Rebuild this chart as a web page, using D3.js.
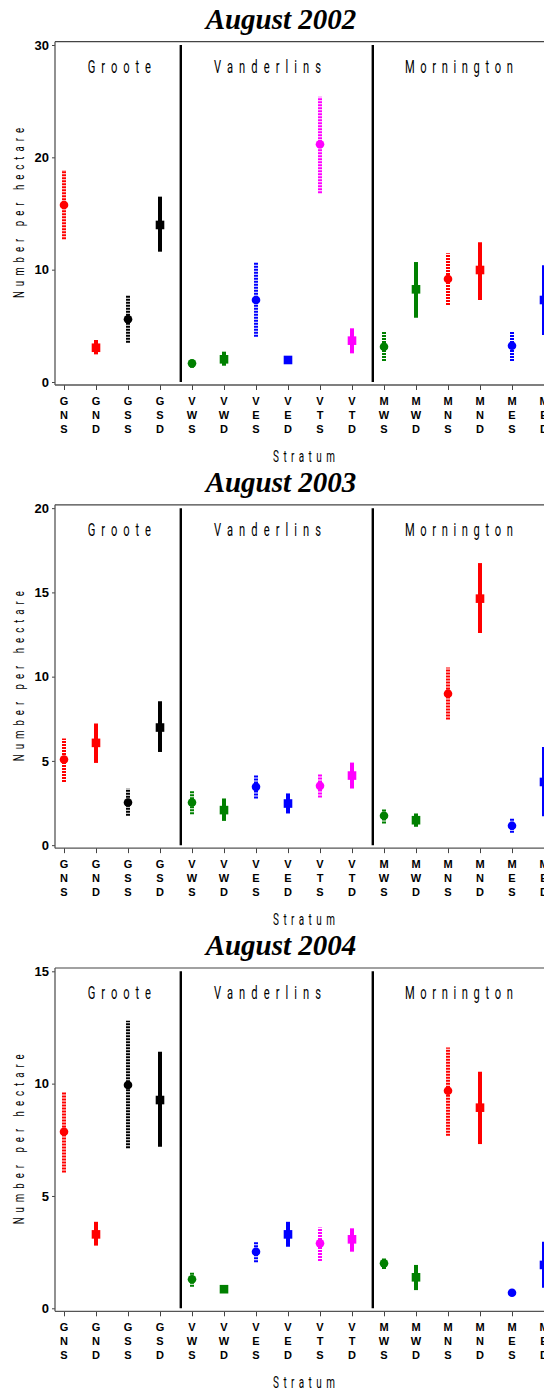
<!DOCTYPE html>
<html>
<head>
<meta charset="utf-8">
<script src="https://cdn.jsdelivr.net/npm/d3@7"></script>
<style>
  html, body { margin: 0; padding: 0; background: #fff; }
  svg { display: block; }
</style>
</head>
<body>
<svg id="chart" width="544" height="1392"></svg>
<script>
// ---------------- DATA ----------------
const categories = ["GNS","GND","GSS","GSD","VWS","VWD","VES","VED","VTS","VTD","MWS","MWD","MNS","MND","MES","MED"];
const panelTitles = ["August 2002","August 2003","August 2004"];
const regions = ["Groote","Vanderlins","Mornington"];
const yMaxes = [30, 20, 15];
const yTicks2002 = [0, 10, 20, 30];
const yTicks2003 = [0, 5, 10, 15, 20];
const yTicks2004 = [0, 5, 10, 15];

const mean2002  = [15.76, 3.05, 5.58, 13.98, 1.66, 2.02, 7.30, 1.96, 21.16, 3.68, 3.14, 8.25, 9.17, 9.97, 3.23, 7.30];
const lower2002 = [12.70, 2.46, 3.50, 11.60, 1.27, 1.45, 4.03, 1.75, 16.80, 2.55, 1.87, 5.72, 6.85, 7.30, 1.87, 4.18];
const upper2002 = [18.87, 3.74, 7.68, 16.50, 2.05, 2.70, 10.62, 2.20, 25.40, 4.78, 4.48, 10.68, 11.46, 12.44, 4.48, 10.40];

const mean2003  = [5.08, 6.07, 2.53, 6.98, 2.53, 2.08, 3.46, 2.47, 3.52, 4.13, 1.74, 1.48, 8.99, 14.63, 1.15, 3.75];
const lower2003 = [3.75, 4.88, 1.74, 5.53, 1.84, 1.44, 2.77, 1.88, 2.83, 3.36, 1.29, 1.09, 7.45, 12.59, 0.73, 1.72];
const upper2003 = [6.33, 7.22, 3.36, 8.54, 3.20, 2.77, 4.19, 3.07, 4.19, 4.90, 2.17, 1.88, 10.54, 16.74, 1.58, 5.83];

const mean2004  = [7.86, 3.29, 9.94, 9.27, 1.29, 0.85, 2.52, 3.29, 2.89, 3.07, 2.00, 1.38, 9.68, 8.93, 0.69, 1.93];
const lower2004 = [6.05, 2.79, 7.12, 7.19, 0.96, 0.75, 2.05, 2.74, 2.10, 2.52, 1.75, 0.81, 7.68, 7.31, 0.60, 0.92];
const upper2004 = [9.60, 3.85, 12.80, 11.42, 1.63, 0.95, 2.94, 3.85, 3.60, 3.56, 2.22, 1.93, 11.61, 10.53, 0.80, 2.96];

// ---------------- STYLE ----------------
const groupColor = { GN: "#ff0000", GS: "#000000", VW: "#008000", VE: "#0000ff", VT: "#ff00ff", MW: "#008000", MN: "#ff0000", ME: "#0000ff" };
const panels = [
  { title: panelTitles[0], yMax: yMaxes[0], ticks: yTicks2002, mean: mean2002, lo: lower2002, hi: upper2002 },
  { title: panelTitles[1], yMax: yMaxes[1], ticks: yTicks2003, mean: mean2003, lo: lower2003, hi: upper2003 },
  { title: panelTitles[2], yMax: yMaxes[2], ticks: yTicks2004, mean: mean2004, lo: lower2004, hi: upper2004 }
];
const regionCenters = [2.73, 7.36, 13.34];
const regionWidths = [63, 107, 108];
const separators = [4.65, 10.65];

const svg = d3.select("#chart");
const panelStep = 463.15;
const axisLeft = 55;
const x = d3.scaleLinear().domain([1, 16]).range([64, 544]);
const thin = "Roboto, 'Liberation Sans', sans-serif";
const squeeze = 0.62;

// condensed, letter-spaced text helper
function thinText(g, tx, ty, rot, width, size, str) {
  g.append("text")
    .attr("transform", `translate(${tx},${ty}) rotate(${rot}) scale(${squeeze},1)`)
    .attr("text-anchor", "middle")
    .attr("textLength", width / squeeze).attr("lengthAdjust", "spacing")
    .style("font-family", thin).style("font-weight", 400).style("font-size", size + "px")
    .attr("fill", "#000")
    .text(str);
}

panels.forEach((p, i) => {
  const off = i * panelStep;
  const g = svg.append("g").attr("transform", `translate(0,${off})`);
  const y = d3.scaleLinear().domain([0, p.yMax]).range([382, 45]);

  // title
  g.append("text")
    .attr("x", 281).attr("y", 29)
    .attr("text-anchor", "middle")
    .style("font-family", "'Liberation Serif', 'Times New Roman', serif")
    .style("font-weight", "bold").style("font-style", "italic")
    .style("font-size", "29px")
    .text(p.title);

  // frame top line
  g.append("line").attr("x1", axisLeft).attr("x2", 560)
    .attr("y1", 41.7).attr("y2", 41.7)
    .attr("stroke", "#444").attr("stroke-width", 1.2);

  // y axis
  const yAxis = d3.axisLeft(y).tickValues(p.ticks).tickSize(3).tickPadding(3).tickFormat(d3.format("d"));
  const ya = g.append("g").attr("transform", `translate(${axisLeft},0)`).call(yAxis);
  ya.select(".domain").remove();
  ya.selectAll(".tick line").attr("stroke", "#444");
  ya.selectAll(".tick text")
    .style("font-family", "'Liberation Sans', Arial, sans-serif")
    .style("font-weight", "bold").style("font-size", "13px").attr("fill", "#000");
  g.append("line").attr("x1", axisLeft).attr("x2", axisLeft)
    .attr("y1", 41.7).attr("y2", 385)
    .attr("stroke", "#555").attr("stroke-width", 1.3);

  // x axis
  const xAxis = d3.axisBottom(x).tickValues(d3.range(1, 17)).tickSize(5).tickFormat(() => "");
  const xa = g.append("g").attr("transform", "translate(0,385)").call(xAxis);
  xa.select(".domain").remove();
  xa.selectAll(".tick line").attr("stroke", "#444");
  g.append("line").attr("x1", axisLeft).attr("x2", 560)
    .attr("y1", 385).attr("y2", 385)
    .attr("stroke", "#555").attr("stroke-width", 1.3);

  // stacked tick labels
  const lineY = [405, 419, 432.5];
  categories.forEach((c, k) => {
    const t = g.append("text")
      .attr("text-anchor", "middle")
      .style("font-family", "'Liberation Sans', Arial, sans-serif")
      .style("font-weight", "bold").style("font-size", "11px");
    c.split("").forEach((ch, j) => {
      t.append("tspan").attr("x", x(k + 1)).attr("y", lineY[j]).text(ch);
    });
  });

  // axis labels
  thinText(g, 304, 461.5, 0, 62, 16, "Stratum");
  thinText(g, 24, 213, -90, 170, 15.5, "Number per hectare");

  // separators
  separators.forEach(s => {
    g.append("line").attr("x1", x(s)).attr("x2", x(s))
      .attr("y1", y(0)).attr("y2", y(p.yMax))
      .attr("stroke", "#000").attr("stroke-width", 2.4);
  });

  // region labels
  regions.forEach((r, k) => {
    thinText(g, x(regionCenters[k]), 73, 0, regionWidths[k], 18, r);
  });

  // error bars + markers
  categories.forEach((c, k) => {
    const col = groupColor[c.slice(0, 2)];
    const shallow = c[2] === "S";
    const cx = x(k + 1);
    g.append("line")
      .attr("x1", cx).attr("x2", cx)
      .attr("y1", y(p.lo[k])).attr("y2", y(p.hi[k]))
      .attr("stroke", col).attr("stroke-width", 4)
      .attr("stroke-dasharray", shallow ? "2,1" : null);
    if (shallow) {
      g.append("circle").attr("cx", cx).attr("cy", y(p.mean[k])).attr("r", 4.3).attr("fill", col);
    } else {
      g.append("rect").attr("x", cx - 4.3).attr("y", y(p.mean[k]) - 4.3)
        .attr("width", 8.6).attr("height", 8.6).attr("fill", col);
    }
  });
});
</script>
</body>
</html>
